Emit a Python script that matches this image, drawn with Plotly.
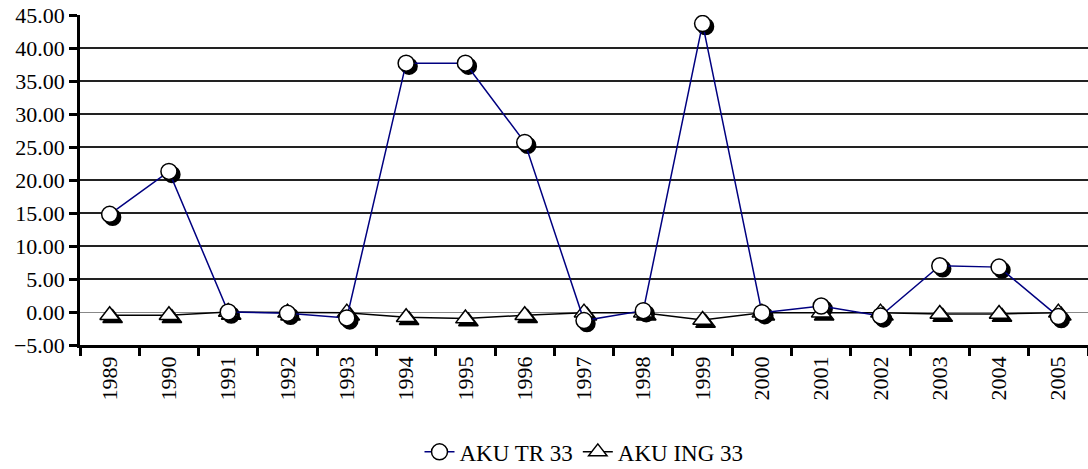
import plotly.graph_objects as go

years = [str(y) for y in range(1989, 2006)]
aku_tr = [14.8, 21.3, 0.0, -0.2, -0.9, 37.7, 37.7, 25.7, -1.3, 0.2, 43.7,
          -0.1, 0.9, -0.6, 7.0, 6.8, -0.7]
aku_ing = [-0.5, -0.5, 0.0, -0.1, -0.1, -0.8, -1.0, -0.5, -0.1, -0.1, -1.2,
           -0.1, -0.1, -0.1, -0.3, -0.3, -0.1]

font = "Liberation Serif"
tick_font = dict(family=font, size=22, color="black")

fig = go.Figure()

# invisible trace so the base subplot (which carries ticks and grid) exists
fig.add_trace(go.Scatter(x=years, y=aku_ing, mode="markers",
                         marker=dict(opacity=0), showlegend=False,
                         hoverinfo="skip"))

# shadows on offset overlay axes (drawn under the real markers)
for vals, sym, size in [(aku_ing, "triangle-up", 17), (aku_tr, "circle", 16)]:
    fig.add_trace(go.Scatter(
        x=years, y=vals, mode="markers", xaxis="x2", yaxis="y2",
        marker=dict(symbol=sym, size=size, color="black",
                    line=dict(width=1.5, color="black")),
        showlegend=False, hoverinfo="skip"
    ))

fig.add_trace(go.Scatter(
    x=years, y=aku_ing, mode="lines+markers", name="AKU ING 33",
    xaxis="x3", yaxis="y3",
    line=dict(color="black", width=1.5),
    marker=dict(symbol="triangle-up", size=17, color="white",
                line=dict(width=1.5, color="black"))
))
fig.add_trace(go.Scatter(
    x=years, y=aku_tr, mode="lines+markers", name="AKU TR 33",
    xaxis="x3", yaxis="y3",
    line=dict(color="#000080", width=1.5),
    marker=dict(symbol="circle", size=16, color="white",
                line=dict(width=1.5, color="black"))
))

xr = [-0.5, 16.5]
yr = [-5, 45]
dx = 0.05
dy = 0.45

fig.update_layout(
    width=1088, height=469,
    margin=dict(l=80, r=0, t=15, b=124, autoexpand=False),
    plot_bgcolor="white", paper_bgcolor="white",
    font=dict(family=font, size=22, color="black"),
    xaxis=dict(
        type="category", categoryarray=years, range=xr,
        tickson="boundaries", ticks="outside", ticklen=8, tickwidth=2.5,
        tickcolor="black", showline=True, linecolor="black", linewidth=2.5,
        showgrid=False, tickangle=-90, tickfont=tick_font, automargin=False
    ),
    yaxis=dict(
        range=yr, dtick=5, tickformat=".2f", ticks="outside", ticklen=8,
        tickwidth=2.5, tickcolor="black", showline=True, linecolor="black",
        linewidth=2.5, showgrid=True, gridcolor="#222222", gridwidth=1.5,
        zeroline=True, zerolinecolor="#888888", zerolinewidth=1,
        tickfont=tick_font, automargin=False
    ),
    xaxis2=dict(type="category", categoryarray=years, overlaying="x",
                anchor="y2", range=[xr[0] - dx, xr[1] - dx], visible=False),
    yaxis2=dict(overlaying="y", anchor="x2",
                range=[yr[0] + dy, yr[1] + dy], visible=False),
    xaxis3=dict(type="category", categoryarray=years, overlaying="x",
                anchor="y3", range=xr, visible=False),
    yaxis3=dict(overlaying="y", anchor="x3", range=yr, visible=False),
    legend=dict(orientation="h", x=0.5, xanchor="center", y=-0.324,
                yanchor="middle", font=dict(family=font, size=23),
                traceorder="reversed"),
    showlegend=True
)

# drop the browser's default 8px body margin so the figure fills the window
fig.write_html("out.html", config={"displayModeBar": False},
               post_script="document.body.style.margin='0';")
